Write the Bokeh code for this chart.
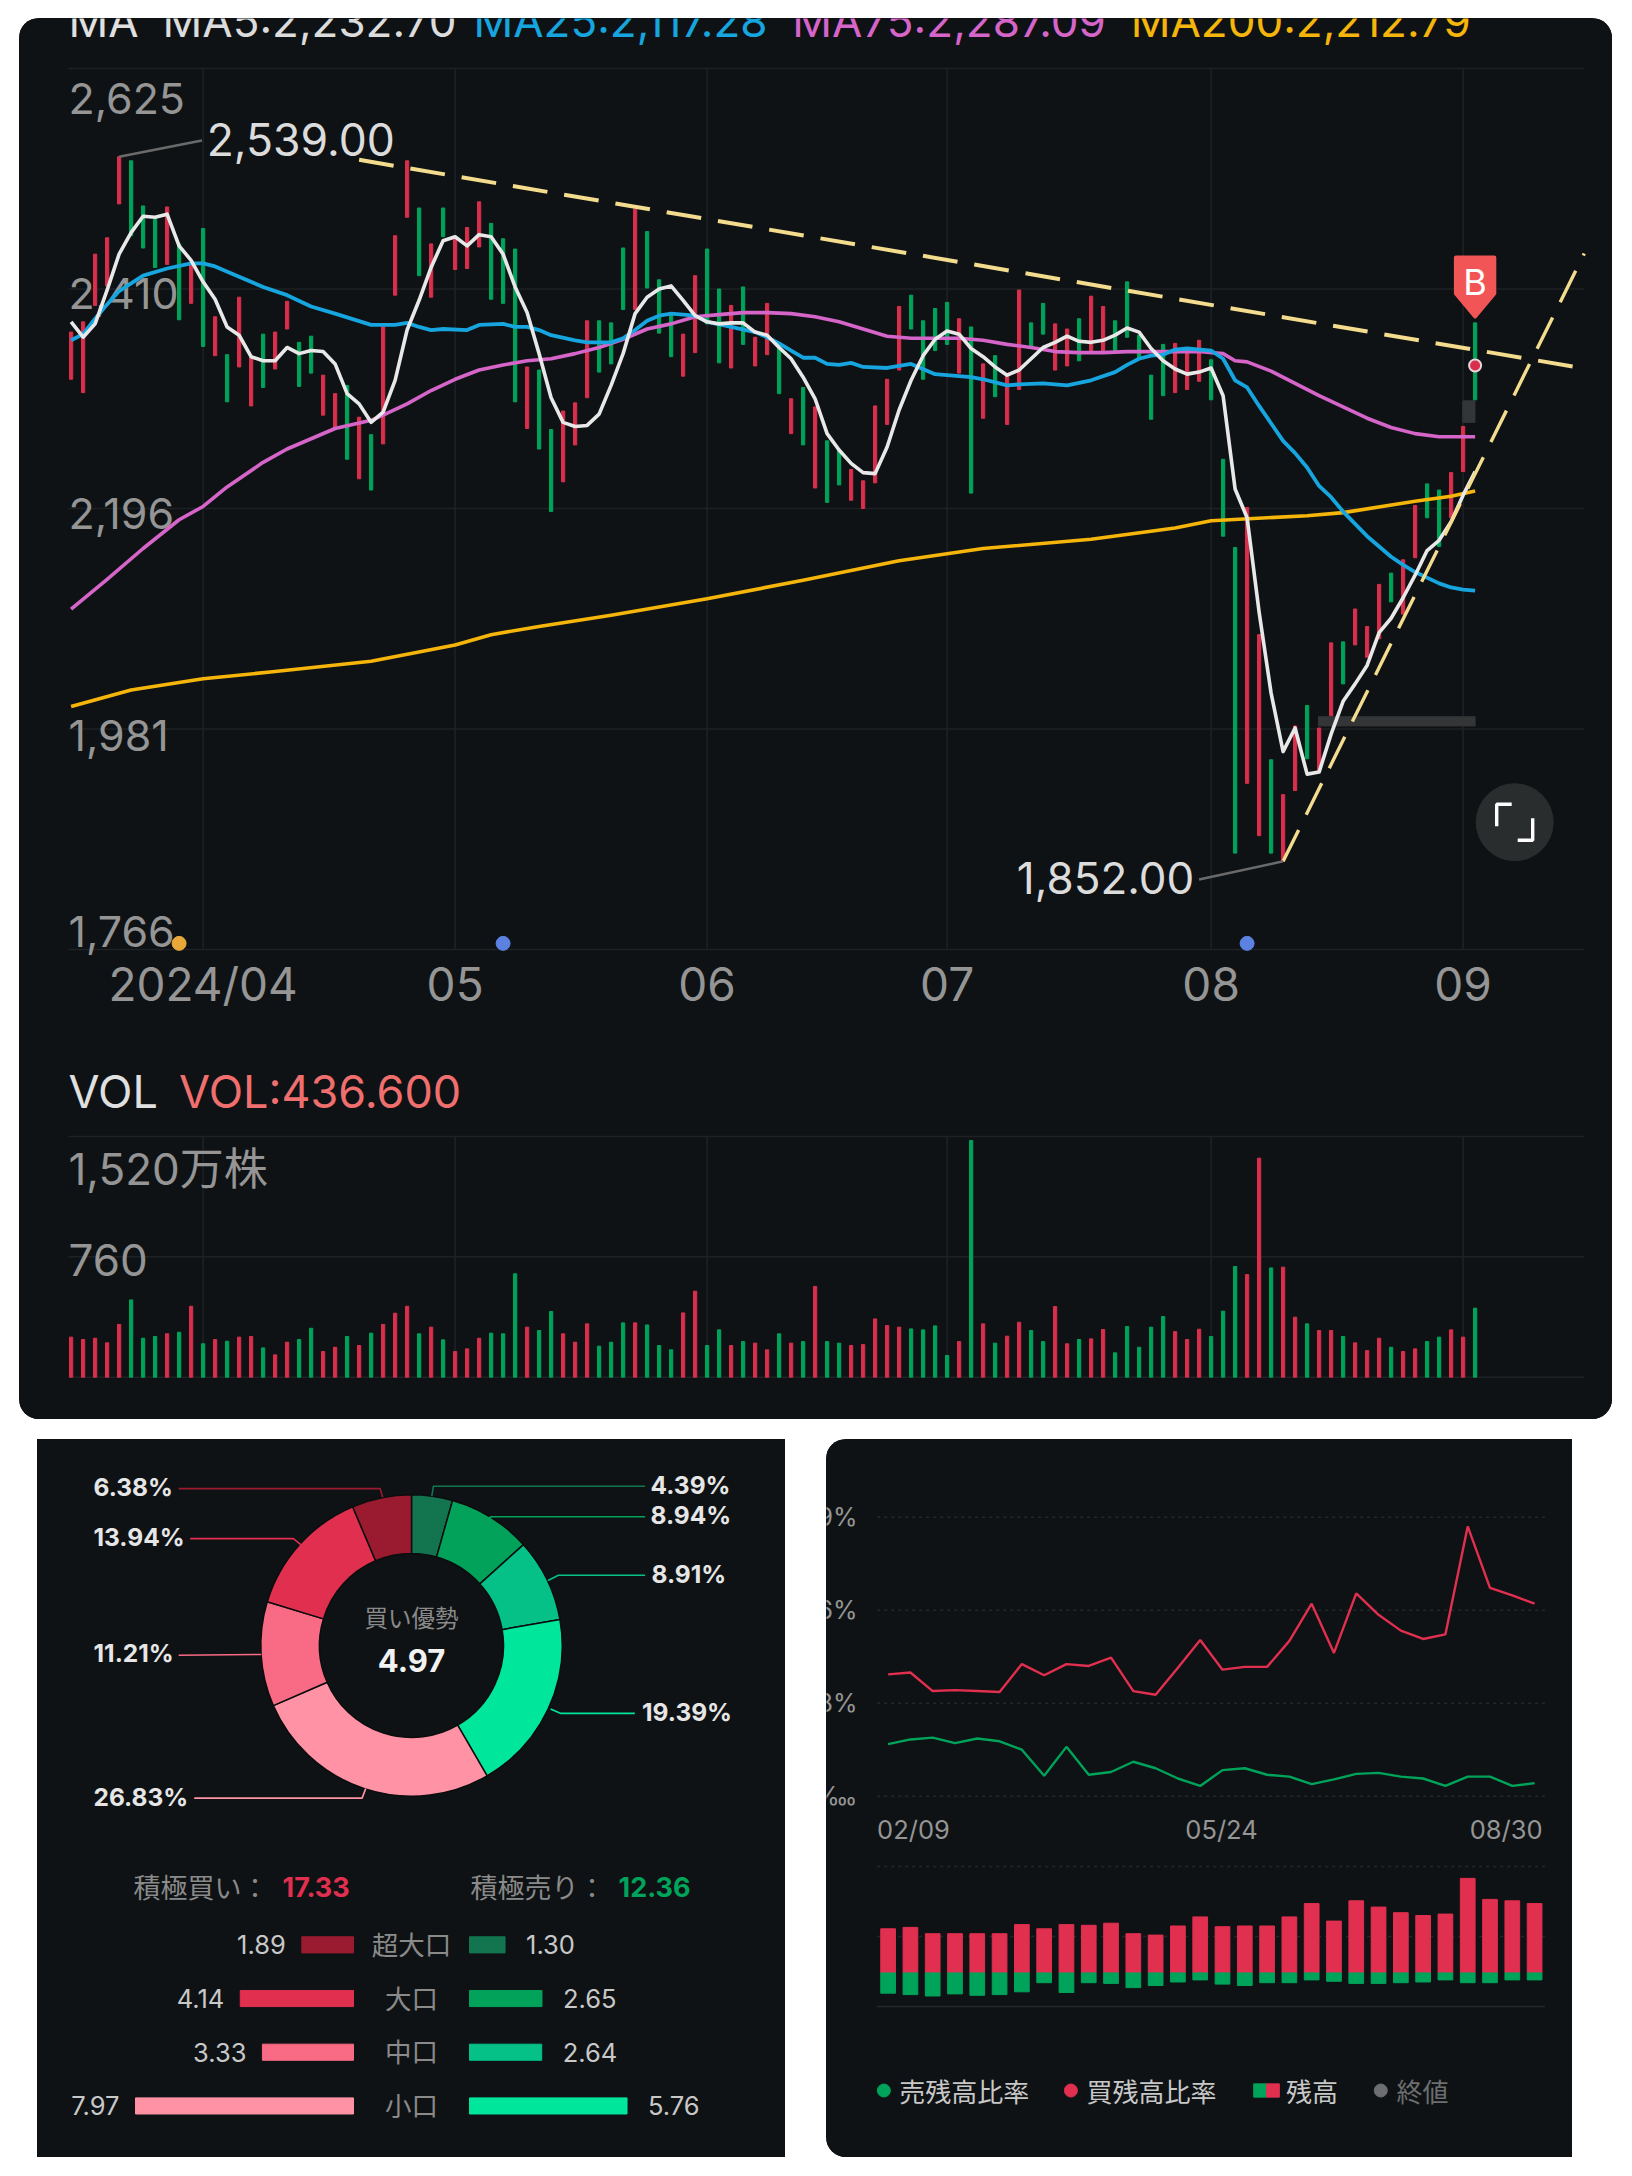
from bokeh.core.properties import value
from bokeh.embed import file_html
from bokeh.layouts import column, row
from bokeh.models import Range1d
from bokeh.plotting import figure
from bokeh.resources import INLINE

# ---------- price panel data ----------
candle_dir = ("rrrrrgggrg" "rgrgrrgrrg" "grrgrgrrrg" "rgrrrgggrg" "grrrgggrgg" "grrggrgrrg"
              "rgrggrrrrr" "ggggrgrgrr" "ggrrgrrggg" "ggrrrgggrr" "grrgrrgrrr" "grrggrrg")
highs = [2368,2378,2444,2460,2539,2535,2491,2478,2490,2454,2434,2469,2383,2346,2402,2344,2366,2368,2398,2358,
         2364,2326,2308,2316,2285,2268,2373,2462,2535,2489,2454,2489,2461,2470,2495,2474,2459,2449,2334,2331,
         2273,2291,2299,2379,2379,2377,2450,2488,2466,2419,2387,2366,2423,2449,2410,2394,2412,2363,2396,2355,
         2303,2314,2295,2262,2253,2234,2223,2296,2322,2393,2404,2379,2391,2397,2381,2373,2337,2345,2327,2409,
         2377,2396,2376,2371,2381,2403,2393,2379,2417,2365,2326,2356,2357,2350,2360,2341,2244,2158,2197,2073,
         1951,1917,1984,2004,1982,2065,2066,2098,2081,2122,2133,2146,2199,2220,2214,2231,2276,2377]
lows = [2322,2309,2394,2413,2493,2462,2450,2431,2434,2380,2396,2354,2345,2300,2334,2296,2314,2332,2371,2315,
        2328,2287,2274,2244,2225,2214,2259,2404,2480,2423,2402,2461,2429,2430,2451,2400,2396,2300,2274,2254,
        2193,2222,2258,2304,2329,2337,2390,2390,2411,2367,2344,2325,2348,2376,2338,2333,2356,2335,2346,2308,
        2269,2258,2216,2202,2219,2204,2196,2221,2278,2331,2371,2322,2350,2356,2328,2211,2284,2305,2278,2312,
        2352,2366,2331,2335,2340,2348,2348,2350,2363,2342,2283,2306,2309,2312,2320,2302,2169,1860,1928,1877,
        1860,1852,1921,1952,1940,1994,2025,2063,2051,2069,2105,2093,2148,2187,2159,2187,2232,2302]
ma5 = [2378,2363,2376,2409,2444,2465,2481,2480,2483,2452,2438,2417,2400,2373,2365,2344,2340,2340,2353,2347,
       2350,2349,2337,2308,2298,2280,2290,2321,2370,2399,2431,2457,2461,2452,2463,2461,2444,2412,2387,2347,
       2304,2280,2276,2277,2288,2316,2347,2386,2402,2410,2413,2399,2384,2378,2376,2377,2377,2368,2365,2353,
       2342,2324,2303,2269,2253,2240,2231,2230,2256,2292,2321,2345,2361,2369,2366,2352,2344,2334,2326,2331,
       2342,2353,2358,2364,2359,2358,2360,2365,2372,2368,2352,2340,2332,2327,2329,2333,2306,2215,2187,2095,
       2016,1959,1982,1937,1939,1976,2008,2025,2043,2075,2089,2109,2131,2155,2165,2183,2209,2232]
ma25_x = [0,1,2,3,4,6,8,10,11,12,14,16,18,20,22,25,27,28,29,30,31,33,34,36,37,38,39,40,42,43,45,46,47,48,49,50,
          52,53,55,57,58,59,60,61,62,63,64,65,66,68,69,70,72,73,75,76,78,79,81,83,85,87,88,89,90,91,92,93,95,96,
          97,98,99,101,102,103,104,105,106,108,110,111,112,114,115,116,117]
ma25 = [2360,2366,2381,2395,2408,2423,2430,2435,2435,2432,2422,2412,2404,2393,2386,2375,2375,2377,2373,2370,2371,
        2370,2375,2376,2373,2373,2370,2365,2360,2358,2358,2362,2370,2379,2384,2386,2384,2378,2373,2368,2363,2357,
        2350,2343,2343,2337,2336,2338,2334,2333,2335,2337,2327,2326,2324,2322,2316,2317,2318,2316,2321,2329,2336,
        2342,2345,2346,2351,2352,2350,2342,2321,2314,2296,2262,2250,2236,2218,2207,2193,2169,2149,2141,2134,2123,
        2119,2117,2116]
ma75_x = [0,3,6,9,11,13,16,18,20,22,25,26,28,30,32,34,36,38,40,42,44,46,48,50,52,54,56,58,60,62,64,66,68,70,72,74,
          76,78,80,82,84,86,88,90,92,94,96,97,98,100,102,104,106,108,110,112,114,116,117]
ma75 = [2098,2127,2157,2185,2198,2217,2241,2254,2264,2274,2282,2287,2298,2311,2322,2331,2336,2340,2342,2347,2353,
        2361,2371,2376,2383,2385,2387,2387,2386,2383,2378,2371,2364,2362,2362,2362,2360,2356,2353,2349,2348,2348,
        2349,2349,2349,2349,2347,2340,2339,2330,2318,2306,2295,2284,2275,2269,2266,2266,2266]
ma200_x = [0,5,11,17,25,32,35,39,45,53,61,69,76,85,92,95,103,106,112,115,117]
ma200 = [2003,2019,2030,2037,2047,2063,2073,2081,2092,2108,2126,2145,2157,2166,2177,2184,2189,2192,2203,2208,2213]
price_ticks = [2625, 2410, 2196, 1981, 1766]
price_labels = ["2,625", "2,410", "2,196", "1,981", "1,766"]
month_ticks = [11, 32, 53, 73, 95, 116]
month_labels = ["2024/04", "05", "06", "07", "08", "09"]
trend_down_x = [24, 126.1]
trend_down_y = [2536, 2332.5]
trend_up_x = [101, 126.1]
trend_up_y = [1852, 2444.6]
event_x = [9, 36, 98]
event_y = [1772, 1772, 1772]
event_colors = ["#e8a93a", "#5b82e0", "#5b82e0"]
level_left = [115.97, 103.95]
level_right = [116.99, 117.0]
level_top = [2301, 1993]
level_bottom = [2280, 1984]

# ---------- volume data ----------
volume = [253,238,246,217,333,488,246,257,274,284,448,211,238,227,253,257,185,141,221,238,
          309,162,189,257,200,278,333,404,448,274,316,236,162,179,246,278,274,653,316,295,
          415,274,221,337,196,221,343,343,330,200,173,406,543,200,299,200,225,215,173,274,
          215,225,573,225,215,200,206,368,326,316,305,299,324,137,225,1495,337,215,259,347,
          295,225,446,211,238,242,301,154,320,189,316,383,288,238,303,257,417,699,648,1383,
          690,695,379,337,295,295,257,217,168,246,189,162,179,225,253,299,253,436]
vol_ticks = [1520, 760, 0]
vol_labels = ["1,520万株", "760"]

# ---------- donut data ----------
flow_share = [4.39, 8.94, 8.91, 19.39, 26.83, 11.21, 13.94, 6.38]
flow_colors = ["#127550", "#02a25b", "#05c187", "#00e69a", "#ff92a4", "#f96a85", "#e12f4f", "#9a1b2f"]
flow_labels = ["4.39%", "8.94%", "8.91%", "19.39%", "26.83%", "11.21%", "13.94%", "6.38%"]
size_names = ["超大口", "大口", "中口", "小口"]
buy_values = [1.89, 4.14, 3.33, 7.97]
sell_values = [1.30, 2.65, 2.64, 5.76]
buy_colors = ["#9a1b2f", "#e12f4f", "#f96a85", "#ff92a4"]
sell_colors = ["#127550", "#02a25b", "#05c187", "#00e69a"]

# ---------- margin-balance data ----------
buy_ratio = [1.31,1.33,1.13,1.14,1.13,1.12,1.42,1.30,1.42,1.40,1.49,1.13,1.09,1.38,1.68,1.36,1.39,1.39,1.67,2.07,
             1.54,2.18,1.95,1.78,1.69,1.74,2.90,2.24,2.16,2.07]
sell_ratio = [.56,.61,.63,.57,.62,.59,.50,.22,.53,.23,.26,.37,.30,.19,.11,.28,.30,.23,.21,.13,
              .18,.24,.25,.21,.19,.11,.21,.21,.11,.14]
buy_balance = [.63,.65,.56,.56,.56,.56,.69,.63,.69,.68,.71,.56,.54,.67,.80,.66,.67,.67,.80,.99,
               .74,1.03,.94,.86,.82,.84,1.35,1.05,1.03,.99]
sell_balance = [.29,.31,.33,.30,.32,.31,.27,.14,.28,.14,.15,.21,.18,.13,.10,.16,.18,.14,.14,.10,
                .12,.15,.15,.14,.13,.10,.14,.14,.10,.10]
ratio_ticks = [3, 2, 1, 0]
ratio_labels = ["9%", "6%", "8%", "5‱"]
balance_grid = [1.52, 0.52]
balance_base = [-0.48]
date_positions = [0, 15, 29]
date_labels = ["02/09", "05/24", "08/30"]
legend_labels = ["売残高比率", "買残高比率", "残高", "終値"]

# ---------- style ----------
BG = "#0f1214"
GRID = "#1e2225"
RED = "#d92f4d"
GREEN = "#00a35a"
GREY = "#959595"
SANS = "Inter, 'Noto Sans CJK JP'"
CJK = "'Noto Sans CJK JP'"
F = value(SANS)
FC = value(CJK)


def base_fig(width, height, x_range, y_range):
    p = figure(width=width, height=height, x_range=x_range, y_range=y_range,
               x_axis_type=None, y_axis_type=None, toolbar_location=None,
               output_backend="svg", background_fill_color=BG, border_fill_color=BG,
               outline_line_color=None, min_border=0)
    p.grid.visible = False
    return p


def P(page_y):  # price at a row of the panel, for annotation placement
    return 2625 - (page_y - 68) * 0.975


def V(page_y):  # volume at a row of the panel, for annotation placement
    return (1376.7 - page_y) * 6.315


n = len(highs)
idx = list(range(n))
cols = [RED if c == "r" else GREEN for c in candle_dir]
x_span = (-4.3, 128.45)
x_left, x_right = -0.22, 126.1

# ================= price =================
price = base_fig(1593, 1022, Range1d(*x_span), Range1d(P(1040), P(18)))
price.segment(x0=month_ticks, x1=month_ticks, y0=[price_ticks[0]] * 6, y1=[price_ticks[-1]] * 6,
              line_color=GRID, line_width=1.5)
price.segment(x0=[x_left] * 5, x1=[x_right] * 5, y0=price_ticks, y1=price_ticks, line_color=GRID, line_width=1.5)
price.text(x=month_ticks, y=[P(983)] * 6, text=month_labels, text_color=GREY, text_font=F, text_font_size="46px",
           text_align="center", text_baseline="middle")
price.text(x=[x_left] * 5, y=price_ticks, text=price_labels, text_color=GREY, text_font=F,
           text_font_size="43px", y_offset=[30, 4.5, 5, 6.5, -18], text_baseline="middle")
price.quad(left=level_left, right=level_right, top=level_top, bottom=level_bottom, color="#333536")
price.vbar(x=idx, top=highs, bottom=lows, width=0.27, color=cols)
price.line(ma200_x, ma200, line_color="#f5b50a", line_width=3.6, line_join="round")
price.line(ma75_x, ma75, line_color="#d565c9", line_width=3.6, line_join="round")
price.line(ma25_x, ma25, line_color="#16a5de", line_width=3.8, line_join="round")
price.line(idx, ma5, line_color="#e8e8e8", line_width=3.6, line_join="round")
price.line(trend_down_x, trend_down_y, line_color="#f3dc8e", line_width=4, line_dash="35 17")
price.line(trend_up_x, trend_up_y, line_color="#f3dc8e", line_width=3.4, line_dash="35 17")
price.scatter(event_x, event_y, size=14, color=event_colors)

# high / low call-outs
price.segment(x0=[highs.index(2539), lows.index(1852)], y0=[2539, 1852], x1=[10.9, 94], y1=[P(140), P(879)],
              line_color="#6a6a6a", line_width=2.5)
price.text(x=[11.3], y=[P(155)], text=["2,539.00"], text_color="#dcdcdc", text_font=F, text_font_size="44.5px")
price.text(x=[93.6], y=[P(893)], text=["1,852.00"], text_color="#dcdcdc", text_font=F, text_font_size="44px",
           text_align="right")

# buy flag on the last candle
price.patch(x=[n - 1 - 1.6, n - 1 + 1.6, n - 1 + 1.6, n - 1, n - 1 - 1.6], y=[P(257), P(257), P(293), P(316), P(293)],
            fill_color="#f25555", line_color="#f25555", line_width=4, line_join="round")
price.text(x=[n - 1], y=[P(281)], text=["B"], text_color="#ffffff", text_font=F, text_font_size="36px",
           text_align="center", text_baseline="middle")
price.scatter([n - 1], [P(365)], size=12, fill_color=RED, line_color="#e6d5d8", line_width=2)

# expand button
icon_x, icon_y = 120.3, P(821.7)
price.scatter([icon_x], [icon_y], size=77, color="#2a2d2e")
dx, dy = 1 / 12, 0.975
price.multi_line(xs=[[icon_x - 18 * dx, icon_x - 18 * dx, icon_x - 3 * dx], [icon_x + 3 * dx, icon_x + 18 * dx, icon_x + 18 * dx]],
                 ys=[[icon_y - 4 * dy, icon_y + 18 * dy, icon_y + 18 * dy], [icon_y - 18 * dy, icon_y - 18 * dy, icon_y + 4 * dy]],
                 line_color="#ffffff", line_width=3.4)

for x, txt, col in [(-0.22, "MA", "#e0e0e0"), (7.62, "MA5:2,232.70", "#dcdcdc"), (33.53, "MA25:2,117.28", "#16a5de"),
                    (60.1, "MA75:2,287.09", "#d565c9"), (88.3, "MA200:2,212.79", "#f5b50a")]:
    price.text(x=[x], y=[P(47)], text=[txt], text_color=col, text_font=F, text_font_size="44px")

# ================= volume =================
vol = base_fig(1593, 379, Range1d(*x_span), Range1d(V(1419), V(1040)))
vol.segment(x0=month_ticks, x1=month_ticks, y0=[vol_ticks[0]] * 6, y1=[vol_ticks[-1]] * 6, line_color=GRID, line_width=1.5)
vol.segment(x0=[x_left] * 3, x1=[x_right] * 3, y0=vol_ticks, y1=vol_ticks, line_color=GRID, line_width=1.5)
vol.text(x=[x_left] * 2, y=vol_ticks[:2], text=vol_labels, text_color=GREY, text_font=F, text_font_size="44px",
         y_offset=[32, 3.5], text_baseline="middle")
vol.vbar(x=idx, top=volume, bottom=0, width=0.27, color=cols)
vol.text(x=[x_left], y=[V(1118)], text=["VOL"], text_color="#e0e0e0", text_font=F, text_font_size="45px")
vol.text(x=[9.0], y=[V(1118)], text=["VOL:436.600"], text_color="#ef6f6f", text_font=F, text_font_size="45px")

top_panel = column(price, vol, margin=(18, 0, 0, 19), spacing=0,
                   styles={"border-radius": "20px", "overflow": "hidden", "background": BG})

# ================= donut =================
donut = base_fig(748, 421, Range1d(-374, 374), Range1d(-215, 206))
total = sum(flow_share)
angles, acc = [], 0.0
TAU = 6.283185307179586
for v in flow_share:
    angles.append((TAU / 4 - acc / total * TAU, TAU / 4 - (acc + v) / total * TAU))
    acc += v
donut.annular_wedge(x=0, y=0, inner_radius=92, outer_radius=150.7,
                    start_angle=[a[1] for a in angles], end_angle=[a[0] for a in angles],
                    fill_color=flow_colors, line_color="#0b0d0e", line_width=1.5)
leader_xs = [[233.6, 21.9, 20.3], [233.6, 79.7, 72], [233.6, 146.9, 136.5], [223.3, 149.4, 139.1],
             [-217.3, -49.4, -45.8], [-232.8, -150.2], [-221.4, -118.1, -110.4], [-232.8, -31.4, -28.8]]
leader_ys = [[159.3, 159.3, 149.3], [128.8, 128.8, 124], [70.2, 70.2, 65], [-67.9, -67.9, -63.6],
             [-152.6, -152.6, -143.1], [-9.8, -9], [106.9, 106.9, 100.7], [156.9, 156.9, 148.3]]
donut.multi_line(xs=leader_xs, ys=leader_ys, line_color=flow_colors, line_width=1.6)
donut.text(x=[239, 239, 240, 230.5, -318, -318, -318, -318], y=[160.3, 130.3, 71.7, -66.9, -151.6, -7.8, 108.9, 158.9],
           text=flow_labels, text_color="#e6e6e6", text_font=F, text_font_size="24.5px", text_font_style="bold",
           text_baseline="middle")
donut.text(x=[0], y=[29], text=["買い優勢"], text_color="#8a8a8a", text_font=FC, text_font_size="23.5px",
           text_align="center", text_baseline="middle")
donut.text(x=[0], y=[-15], text=["4.97"], text_color="#f2f2f2", text_font=F, text_font_size="31px", text_font_style="bold",
           text_align="center", text_baseline="middle")

# ================= size bars =================
unit = 27.35
gap = 58 / unit
half = 374 / unit
flows = base_fig(748, 297, Range1d(-half, half), Range1d(3.96, -1.57))
rows = list(range(4))
flows.quad(left=[-gap - v for v in buy_values], right=[-gap] * 4, top=[r - 0.15 for r in rows], bottom=[r + 0.15 for r in rows],
           color=buy_colors)
flows.quad(left=[gap] * 4, right=[gap + v for v in sell_values], top=[r - 0.15 for r in rows], bottom=[r + 0.15 for r in rows],
           color=sell_colors)
flows.text(x=[-gap - v for v in buy_values], y=rows, text=[f"{v:.2f}" for v in buy_values], x_offset=-16,
           text_align="right", text_baseline="middle", text_color="#c8c8c8", text_font=F, text_font_size="25.5px")
flows.text(x=[gap + v for v in sell_values], y=rows, text=[f"{v:.2f}" for v in sell_values], x_offset=21,
           text_align="left", text_baseline="middle", text_color="#c8c8c8", text_font=F, text_font_size="25.5px")
flows.text(x=[0] * 4, y=rows, text=size_names, text_align="center", text_baseline="middle", text_color="#8a8a8a",
           text_font=FC, text_font_size="26.5px", y_offset=-1.5)
flows.text(x=[(133 - 411) / unit], y=[-1.08], text=["積極買い："], text_color="#8a8a8a", text_font=FC, text_font_size="27px",
           text_baseline="middle")
flows.text(x=[(282 - 411) / unit], y=[-1.08], text=["17.33"], text_color="#e12f4f", text_font=F, text_font_size="27px",
           text_font_style="bold", text_baseline="middle")
flows.text(x=[(470 - 411) / unit], y=[-1.08], text=["積極売り："], text_color="#8a8a8a", text_font=FC, text_font_size="27px",
           text_baseline="middle")
flows.text(x=[(618 - 411) / unit], y=[-1.08], text=["12.36"], text_color=GREEN, text_font=F, text_font_size="27px",
           text_font_style="bold", text_baseline="middle")
left_panel = column(donut, flows, spacing=0, styles={"overflow": "hidden", "background": BG})

# ================= margin lines =================
m = len(buy_ratio)
midx = list(range(m))
mx = (-2.764, 30.7)
ratio = base_fig(746, 416, Range1d(*mx), Range1d(-0.638, 3.835))
ratio.segment(x0=[-0.49] * 4, x1=[29.46] * 4, y0=ratio_ticks, y1=ratio_ticks, line_color="#24282b", line_width=1.5,
              line_dash="3 4")
ratio.text(x=[-1.37] * 4, y=ratio_ticks, text=ratio_labels, text_color=GREY, text_font=value("Inter, 'DejaVu Sans'"),
           text_font_size="25px", text_align="right", text_baseline="middle")
ratio.line(midx, buy_ratio, line_color="#e12f4f", line_width=2.4)
ratio.line(midx, sell_ratio, line_color=GREEN, line_width=2.4)
for pos, lab, al, off in zip(date_positions, date_labels, ["left", "center", "right"], [-11, -1, 8]):
    ratio.text(x=[pos], y=[-0.52], text=[lab], text_color=GREY, text_font=F, text_font_size="25.5px",
               text_align=al, x_offset=off)

# ================= margin balance =================
bal = base_fig(746, 302, Range1d(*mx), Range1d(-2.637, 1.677))
bal.segment(x0=[-0.49] * 2, x1=[29.46] * 2, y0=balance_grid, y1=balance_grid, line_color="#24282b", line_width=1.5,
            line_dash="3 4")
bal.segment(x0=[-0.49], x1=[29.46], y0=balance_base, y1=balance_base, line_color="#24282b", line_width=1.5)
bal.vbar(x=midx, top=buy_balance, bottom=0, width=0.66, color="#e12f4f")
bal.vbar(x=midx, top=0, bottom=[-v for v in sell_balance], width=0.66, color=GREEN)
legend_y = -1.68
bal.scatter([-0.19], [legend_y], size=13, color=GREEN)
bal.text(x=[0.5], y=[legend_y], text=[legend_labels[0]], text_color="#c8c8c8", text_font=FC, text_font_size="26px",
         text_baseline="middle")
bal.scatter([8.2], [legend_y], size=13, color="#e12f4f")
bal.text(x=[8.9], y=[legend_y], text=[legend_labels[1]], text_color="#c8c8c8", text_font=FC, text_font_size="26px",
         text_baseline="middle")
bal.quad(left=[16.4], right=[16.98], top=[legend_y + 0.095], bottom=[legend_y - 0.095], color=GREEN)
bal.quad(left=[16.98], right=[17.55], top=[legend_y + 0.095], bottom=[legend_y - 0.095], color="#e12f4f")
bal.text(x=[17.85], y=[legend_y], text=[legend_labels[2]], text_color="#c8c8c8", text_font=FC, text_font_size="26px",
         text_baseline="middle")
bal.scatter([22.1], [legend_y], size=13, color="#6c6e70")
bal.text(x=[22.8], y=[legend_y], text=[legend_labels[3]], text_color="#6c6e70", text_font=FC, text_font_size="26px",
         text_baseline="middle")
right_panel = column(ratio, bal, margin=(0, 0, 0, 41), spacing=0,
                     styles={"border-top-left-radius": "20px", "border-bottom-left-radius": "20px",
                             "overflow": "hidden", "background": BG})

bottom = row(left_panel, right_panel, margin=(20, 0, 0, 37), spacing=0)
page = column(top_panel, bottom, spacing=0)
open("out.html", "w").write(file_html(page, INLINE))
